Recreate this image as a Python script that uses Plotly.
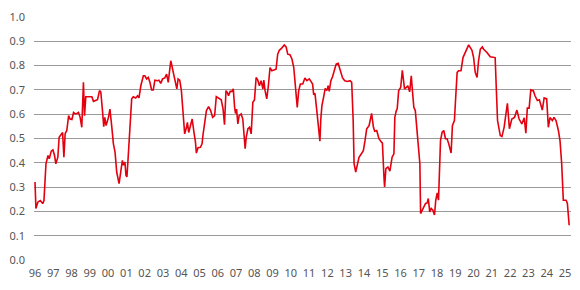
import plotly.graph_objects as go

# decimal years and values
years = [
    1996.00, 1996.05, 1996.16, 1996.29, 1996.42, 1996.49, 1996.60, 1996.71, 1996.78, 1996.89,
    1996.98, 1997.07, 1997.14, 1997.25, 1997.32, 1997.43, 1997.51, 1997.58, 1997.65, 1997.74,
    1997.84, 1997.92, 1998.02, 1998.11, 1998.20, 1998.29, 1998.38, 1998.47, 1998.56, 1998.65,
    1998.71, 1998.78, 1998.89, 1999.01, 1999.11, 1999.20, 1999.33, 1999.42, 1999.53, 1999.60,
    1999.69, 1999.76, 1999.82, 1999.89, 2000.02, 2000.10, 2000.20, 2000.29, 2000.38, 2000.47,
    2000.60, 2000.70, 2000.78, 2000.84, 2000.92, 2000.98, 2001.03, 2001.11, 2001.19, 2001.29,
    2001.38, 2001.51, 2001.61, 2001.69, 2001.79, 2001.93, 2002.01, 2002.11, 2002.20, 2002.29,
    2002.38, 2002.47, 2002.56, 2002.70, 2002.78, 2002.88, 2002.98, 2003.10, 2003.20, 2003.29,
    2003.43, 2003.51, 2003.62, 2003.69, 2003.76, 2003.83, 2003.92, 2004.01, 2004.11, 2004.19,
    2004.29, 2004.34, 2004.41, 2004.50, 2004.60, 2004.71, 2004.78, 2004.83, 2004.92, 2005.05,
    2005.14, 2005.20, 2005.28, 2005.38, 2005.50, 2005.61, 2005.72, 2005.83, 2005.92, 2006.01,
    2006.10, 2006.19, 2006.29, 2006.37, 2006.45, 2006.52, 2006.59, 2006.68, 2006.78, 2006.85,
    2006.92, 2006.97, 2007.03, 2007.10, 2007.17, 2007.28, 2007.37, 2007.43, 2007.50, 2007.56,
    2007.65, 2007.74, 2007.83, 2007.92, 2008.01, 2008.10, 2008.19, 2008.28, 2008.37, 2008.47,
    2008.52, 2008.59, 2008.68, 2008.77, 2008.86, 2008.96, 2009.07, 2009.19, 2009.28, 2009.37,
    2009.50, 2009.64, 2009.74, 2009.83, 2009.95, 2010.06, 2010.16, 2010.23, 2010.30, 2010.35,
    2010.43, 2010.52, 2010.65, 2010.77, 2010.88, 2011.01, 2011.10, 2011.19, 2011.25, 2011.32,
    2011.41, 2011.50, 2011.59, 2011.64, 2011.70, 2011.79, 2011.88, 2011.97, 2012.04, 2012.10,
    2012.19, 2012.28, 2012.37, 2012.48, 2012.59, 2012.70, 2012.83, 2012.95, 2013.10, 2013.24,
    2013.33, 2013.41, 2013.46, 2013.55, 2013.65, 2013.73, 2013.86, 2013.97, 2014.06, 2014.15,
    2014.28, 2014.37, 2014.42, 2014.52, 2014.59, 2014.70, 2014.82, 2014.92, 2015.01, 2015.10,
    2015.13, 2015.20, 2015.31, 2015.42, 2015.54, 2015.64, 2015.69, 2015.77, 2015.82, 2015.90,
    2016.01, 2016.10, 2016.15, 2016.22, 2016.32, 2016.40, 2016.50, 2016.59, 2016.66, 2016.73,
    2016.81, 2016.88, 2016.99, 2017.06, 2017.10, 2017.19, 2017.28, 2017.37, 2017.46, 2017.52,
    2017.60, 2017.68, 2017.77, 2017.86, 2017.93, 2018.01, 2018.08, 2018.13, 2018.19, 2018.28,
    2018.37, 2018.46, 2018.55, 2018.64, 2018.77, 2018.84, 2018.95, 2019.02, 2019.10, 2019.18,
    2019.31, 2019.42, 2019.51, 2019.60, 2019.73, 2019.82, 2019.91, 2020.00, 2020.09, 2020.19,
    2020.27, 2020.37, 2020.48, 2020.55, 2020.73, 2020.91, 2021.18, 2021.24, 2021.31, 2021.46,
    2021.55, 2021.67, 2021.85, 2021.96, 2022.09, 2022.24, 2022.37, 2022.49, 2022.64, 2022.77,
    2022.86, 2022.94, 2023.04, 2023.13, 2023.27, 2023.36, 2023.49, 2023.60, 2023.76, 2023.86,
    2024.00, 2024.09, 2024.18, 2024.31, 2024.40, 2024.51, 2024.64, 2024.73, 2024.82, 2024.91,
    2025.06, 2025.13, 2025.23,
]
values = [
    0.321, 0.212, 0.239, 0.245, 0.232, 0.245, 0.396, 0.430, 0.417, 0.448,
    0.453, 0.430, 0.396, 0.423, 0.505, 0.520, 0.525, 0.423, 0.520, 0.533,
    0.594, 0.580, 0.578, 0.607, 0.601, 0.603, 0.607, 0.587, 0.546, 0.731,
    0.594, 0.672, 0.672, 0.672, 0.672, 0.653, 0.656, 0.660, 0.697, 0.692,
    0.617, 0.549, 0.587, 0.553, 0.587, 0.621, 0.549, 0.478, 0.444, 0.362,
    0.314, 0.362, 0.410, 0.390, 0.403, 0.348, 0.342, 0.437, 0.546, 0.663,
    0.672, 0.667, 0.676, 0.667, 0.717, 0.758, 0.758, 0.745, 0.751, 0.731,
    0.700, 0.700, 0.740, 0.738, 0.740, 0.727, 0.745, 0.749, 0.765, 0.731,
    0.820, 0.792, 0.745, 0.731, 0.704, 0.745, 0.740, 0.697, 0.615, 0.519,
    0.546, 0.566, 0.525, 0.557, 0.580, 0.519, 0.485, 0.440, 0.462, 0.464,
    0.478, 0.519, 0.560, 0.615, 0.631, 0.615, 0.587, 0.594, 0.672, 0.667,
    0.663, 0.659, 0.622, 0.557, 0.697, 0.690, 0.676, 0.694, 0.694, 0.704,
    0.631, 0.603, 0.621, 0.560, 0.594, 0.601, 0.580, 0.512, 0.458, 0.506,
    0.540, 0.546, 0.519, 0.649, 0.659, 0.751, 0.740, 0.717, 0.738, 0.704,
    0.740, 0.697, 0.663, 0.717, 0.792, 0.779, 0.781, 0.785, 0.847, 0.863,
    0.872, 0.885, 0.877, 0.847, 0.845, 0.827, 0.792, 0.724, 0.667, 0.628,
    0.697, 0.724, 0.724, 0.749, 0.738, 0.745, 0.735, 0.724, 0.680, 0.686,
    0.622, 0.553, 0.489, 0.580, 0.635, 0.669, 0.706, 0.697, 0.717, 0.694,
    0.738, 0.754, 0.779, 0.806, 0.809, 0.781, 0.749, 0.738, 0.735, 0.738,
    0.731, 0.574, 0.396, 0.362, 0.396, 0.423, 0.437, 0.451, 0.492, 0.540,
    0.553, 0.594, 0.603, 0.546, 0.530, 0.533, 0.499, 0.489, 0.481, 0.335,
    0.301, 0.376, 0.383, 0.366, 0.423, 0.437, 0.587, 0.615, 0.622, 0.697,
    0.710, 0.781, 0.745, 0.704, 0.710, 0.717, 0.692, 0.758, 0.690, 0.628,
    0.615, 0.546, 0.478, 0.396, 0.191, 0.205, 0.226, 0.233, 0.235, 0.253,
    0.198, 0.212, 0.205, 0.185, 0.246, 0.276, 0.246, 0.328, 0.492, 0.526,
    0.533, 0.499, 0.499, 0.478, 0.440, 0.553, 0.574, 0.669, 0.772, 0.779,
    0.779, 0.833, 0.847, 0.868, 0.885, 0.874, 0.863, 0.833, 0.772, 0.751,
    0.820, 0.868, 0.877, 0.867, 0.854, 0.836, 0.833, 0.710, 0.574, 0.512,
    0.508, 0.546, 0.645, 0.540, 0.580, 0.587, 0.617, 0.580, 0.560, 0.585,
    0.522, 0.625, 0.625, 0.700, 0.697, 0.676, 0.656, 0.659, 0.617, 0.667,
    0.663, 0.546, 0.586, 0.574, 0.587, 0.574, 0.533, 0.490, 0.396, 0.246,
    0.246, 0.234, 0.143,
]

tick_years = list(range(1996, 2026))
tick_labels = [f"{y % 100:02d}" for y in tick_years]
y_ticks = [i / 10 for i in range(11)]

fig = go.Figure()
fig.add_trace(go.Scatter(
    x=years, y=values, mode="lines",
    line=dict(color="#e3000f", width=1.6),
    hoverinfo="skip", showlegend=False,
))

fig.update_layout(
    width=580, height=290,
    margin=dict(l=32, r=9, t=16, b=30),
    paper_bgcolor="white", plot_bgcolor="white",
    font=dict(family="Noto Sans, Open Sans, sans-serif", size=11, color="#555555"),
    xaxis=dict(
        range=[1995.945, 2025.33],
        tickmode="array", tickvals=tick_years, ticktext=tick_labels,
        showgrid=False, zeroline=False, showline=False, ticks="",
        ticklabelstandoff=5,
        tickfont=dict(size=11, color="#555555"),
        fixedrange=True,
    ),
    yaxis=dict(
        range=[0, 1.0],
        tickmode="array", tickvals=y_ticks, tickformat=".1f",
        showgrid=True, gridcolor="#9a9a9a", gridwidth=1,
        zeroline=False, showline=False, ticks="",
        ticklabelstandoff=8,
        tickfont=dict(size=11, color="#555555"),
        fixedrange=True,
    ),
)

fig.write_html("out.html")
